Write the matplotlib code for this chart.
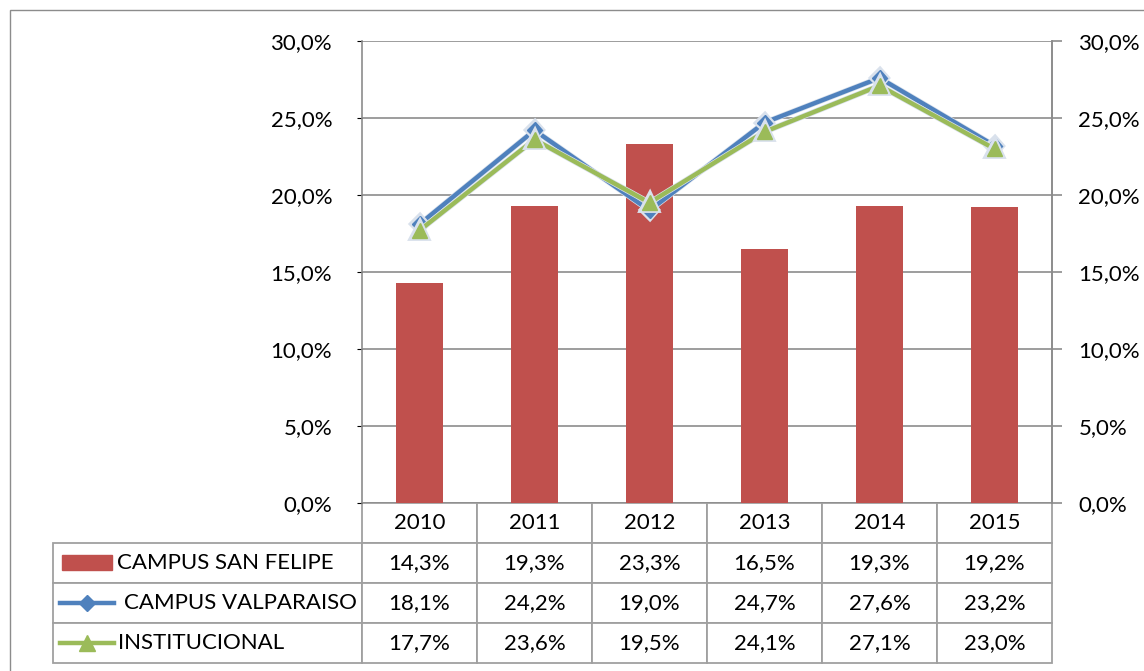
import matplotlib.pyplot as plt
import matplotlib.patheffects as pe
from matplotlib.table import Table
from matplotlib.patches import Rectangle
from matplotlib.lines import Line2D
from matplotlib.ticker import FuncFormatter, MultipleLocator

years = ["2010", "2011", "2012", "2013", "2014", "2015"]
san_felipe = [14.3, 19.3, 23.3, 16.5, 19.3, 19.2]
valparaiso = [18.1, 24.2, 19.0, 24.7, 27.6, 23.2]
institucional = [17.7, 23.6, 19.5, 24.1, 27.1, 23.0]
series_names = ["CAMPUS SAN FELIPE", "CAMPUS VALPARAISO", "INSTITUCIONAL"]

RED = "#C0504D"
BLUE = "#4F81BD"
GREEN = "#9BBB59"
GRID = "#8C8C8C"
FS = 16

plt.rcParams["font.family"] = ["Lato", "DejaVu Sans"]
W, H = 1144, 671
fig = plt.figure(figsize=(W / 100, H / 100), dpi=100)

# outer frame of the chart object
fig.add_artist(Rectangle((10 / W, -0.01), 1.0, (H - 10) / H + 0.01, transform=fig.transFigure,
                         fill=False, edgecolor="#8C8C8C", linewidth=1.0))

ax = fig.add_axes([362 / W, (H - 503) / H, 690 / W, 462 / H])
x = list(range(len(years)))

ax.bar(x, san_felipe, width=0.41, color=RED, zorder=2)
outline = [pe.Stroke(linewidth=4.2, foreground="#D9E1EC"), pe.Normal()]
ax.plot(x, valparaiso, color=BLUE, lw=3.2, marker="D", markersize=8, zorder=3,
        path_effects=outline)
ax.plot(x, institucional, color=GREEN, lw=3.2, marker="^", markersize=11, zorder=4,
        path_effects=outline)

ax.set_xlim(-0.5, len(years) - 0.5)
ax.set_ylim(0, 30)
ax.yaxis.set_major_locator(MultipleLocator(5))
fmt = FuncFormatter(lambda v, p: f"{v:.1f}%".replace(".", ","))
ax.yaxis.set_major_formatter(fmt)
ax.grid(axis="y", color=GRID, lw=1.2, zorder=0)
ax.set_xticks([])
for s in ["left", "right"]:
    ax.spines[s].set_color(GRID)
    ax.spines[s].set_linewidth(1.2)
ax.spines["top"].set_visible(False)
ax.spines["bottom"].set_visible(False)
ax.tick_params(axis="y", left=False, labelsize=FS, pad=18, colors="black")

ax2 = ax.twinx()
ax2.set_ylim(0, 30)
ax2.yaxis.set_major_locator(MultipleLocator(5))
ax2.yaxis.set_major_formatter(fmt)
ax2.tick_params(axis="y", right=True, length=7, width=1.2, color=GRID, labelsize=FS, pad=12)
for s in ["left", "top", "bottom"]:
    ax2.spines[s].set_visible(False)
ax2.spines["right"].set_color(GRID)
ax2.spines["right"].set_linewidth(1.2)

# data table under the plot
tab = Table(ax, bbox=[(53 - 362) / 690, -160 / 462, 999 / 690, 160 / 462])
label_w, col_w, row_h = 309, 115, 40
for j, yr in enumerate(years):
    tab.add_cell(0, j + 1, col_w, row_h, text=yr, loc="center")
values = [san_felipe, valparaiso, institucional]
label_pad = [(117 - 53) / 309, (124 - 53) / 309, (118 - 53) / 309]
for i, (name, vals) in enumerate(zip(series_names, values)):
    c = tab.add_cell(i + 1, 0, label_w, row_h, text=name, loc="left")
    c.PAD = label_pad[i]
    for j, v in enumerate(vals):
        tab.add_cell(i + 1, j + 1, col_w, row_h, text=f"{v:.1f}%".replace(".", ","), loc="center")
tab.auto_set_font_size(False)
tab.set_fontsize(FS)
for cell in tab.get_celld().values():
    cell.set_edgecolor("#A0A0A0")
    cell.set_linewidth(1.3)
ax.add_table(tab)

# legend keys inside the table
fig.add_artist(Rectangle((62 / W, (H - 570) / H), 50 / W, 15 / H, transform=fig.transFigure,
                         color=RED))
fig.add_artist(Line2D([60 / W, 114 / W], [(H - 603) / H] * 2, transform=fig.transFigure,
                      color=BLUE, lw=3.2))
fig.add_artist(Line2D([87 / W], [(H - 603) / H], transform=fig.transFigure,
                      color=BLUE, marker="D", markersize=8))
fig.add_artist(Line2D([60 / W, 114 / W], [(H - 643) / H] * 2, transform=fig.transFigure,
                      color=GREEN, lw=3.2))
fig.add_artist(Line2D([87 / W], [(H - 643) / H], transform=fig.transFigure,
                      color=GREEN, marker="^", markersize=11))

fig.savefig("out.png", dpi=100)
